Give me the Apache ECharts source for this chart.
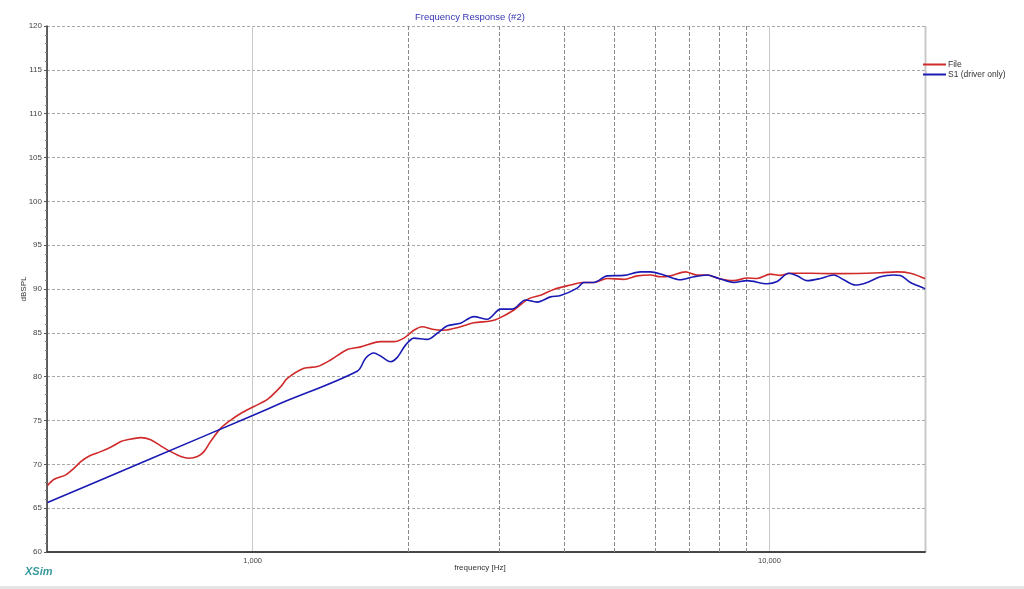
<!DOCTYPE html>
<html>
<head>
<meta charset="utf-8">
<script src="https://cdn.jsdelivr.net/npm/echarts@6/dist/echarts.min.js"></script>
<style>html,body{margin:0;padding:0;background:#fff}#c{width:1024px;height:589px}</style>
</head>
<body>
<div id="c"></div>
<script>
var fileFreq = [401,413,435,451,465,483,508,531,556,572,607,635,664,694,726,753,782,805,829,867,907,948,1006,1068,1133,1167,1257,1334,1415,1525,1618,1768,1876,1962,2051,2129,2227,2344,2525,2679,2886,2995,3203,3423,3607,3826,4122,4343,4573,4855,5228,5548,5886,6154,6435,6879,7246,7578,7979,8529,9055,9468,10044,10502,10980,12003,13317,15453,16396,17660,18740,19890,20000];
var fileDb = [67.6,68.3,68.8,69.55,70.3,70.95,71.45,71.95,72.6,72.8,73.05,72.8,72.1,71.45,70.9,70.7,70.9,71.45,72.6,74.1,75.05,75.8,76.6,77.4,78.85,79.8,80.95,81.15,81.9,83.1,83.4,84.0,84.0,84.4,85.3,85.7,85.4,85.3,85.7,86.15,86.35,86.65,87.6,88.9,89.3,89.95,90.45,90.75,90.75,91.2,91.1,91.5,91.6,91.4,91.5,91.95,91.6,91.6,91.2,90.95,91.25,91.2,91.7,91.55,91.8,91.8,91.75,91.8,91.85,91.95,91.8,91.25,91.15];
var s1Freq = [401,635,1000,1133,1596,1654,1716,1768,1849,1905,1976,2051,2177,2277,2381,2525,2679,2844,3018,3180,3373,3553,3771,3942,4246,4373,4573,4855,5228,5630,5886,6246,6729,7139,7578,7979,8529,9055,9900,10349,10897,11316,11827,12550,13317,13925,14668,15453,16396,17394,17922,18740,19890,20000];
var s1Db = [65.65,70.64,75.57,76.96,80.65,82.1,82.7,82.35,81.7,82.2,83.6,84.4,84.25,84.95,85.8,86.1,86.85,86.55,87.7,87.7,88.75,88.5,89.1,89.25,90.1,90.75,90.75,91.5,91.55,91.95,91.95,91.6,91.05,91.4,91.6,91.2,90.75,90.95,90.6,90.85,91.8,91.5,90.95,91.2,91.6,91.05,90.45,90.75,91.4,91.6,91.55,90.75,90.1,90.0];
var minorGridFreq = [2000,3000,4000,5000,6000,7000,8000,9000];
var xLabelValues = [1000,10000];
var seriesNames = ['File','S1 (driver only)'];

function pairs(f, d){ return f.map(function(v,i){ return [v, d[i]]; }); }
var FONT = 'Liberation Sans';
var chart = echarts.init(document.getElementById('c'));
chart.setOption({
  backgroundColor: '#ffffff',
  animation: false,
  title: {
    text: 'Frequency Response (#2)',
    left: 415, top: 12, padding: 0,
    textStyle: { fontFamily: FONT, fontSize: 9.5, fontWeight: 'normal', color: '#3434b4' }
  },
  legend: {
    orient: 'vertical', left: 923, top: 60, padding: 0,
    itemWidth: 23, itemHeight: 2, itemGap: 1,
    icon: 'rect',
    textStyle: { fontFamily: FONT, fontSize: 8.5, color: '#333', padding: [0,0,0,-3] },
    data: seriesNames
  },
  grid: { left: 47, top: 26, right: 99, bottom: 37, show: false },
  xAxis: {
    type: 'log', logBase: 10, min: 400, max: 20000,
    name: 'frequency [Hz]', nameLocation: 'middle', nameGap: 12, nameMoveOverlap: false,
    nameTextStyle: { fontFamily: FONT, fontSize: 8, color: '#333', padding: [0,12,0,0] },
    axisLine: { lineStyle: { color: '#444', width: 2, type: [2,1] } },
    axisTick: { show: false },
    axisLabel: {
      fontFamily: FONT, fontSize: 7.5, color: '#444', margin: 5,
      showMinLabel: false, showMaxLabel: false,
      formatter: function(v){
        var r = Math.round(v);
        return xLabelValues.indexOf(r) >= 0 ? r.toLocaleString('en-US') : '';
      }
    },
    splitLine: { show: true, lineStyle: { color: '#c8c8c8', width: 1, type: 'solid' } }
  },
  yAxis: {
    type: 'value', min: 60, max: 120, interval: 5,
    name: 'dBSPL', nameLocation: 'middle', nameGap: 19, nameMoveOverlap: false,
    nameTextStyle: { fontFamily: FONT, fontSize: 8, color: '#333' },
    axisLine: { show: true, lineStyle: { color: '#333', width: 1.5 } },
    axisTick: { show: true, length: 3, lineStyle: { color: '#555' } },
    minorTick: { show: true, splitNumber: 5, length: 2, lineStyle: { color: '#888' } },
    axisLabel: { fontFamily: FONT, fontSize: 8, color: '#444', margin: 5 },
    splitLine: { show: true, lineStyle: { color: '#a8a8a8', width: 1, type: [3,2] } }
  },
  graphic: [
    { type: 'rect', left: 0, top: 586, shape: { width: 1024, height: 3 }, style: { fill: '#e4e4e4' }, silent: true },
    { type: 'line', shape: { x1: 925.5, y1: 26, x2: 925.5, y2: 552 }, style: { stroke: '#999', lineWidth: 1.5 }, silent: true },
    { type: 'text', left: 25, top: 566, style: { text: 'XSim', fontFamily: FONT, fontSize: 11, fontStyle: 'italic', fontWeight: 'bold', fill: '#3a9a9e' } }
  ],
  series: [
    {
      name: seriesNames[0], type: 'line', data: pairs(fileFreq, fileDb),
      showSymbol: false, symbol: 'none', smooth: 0.3,
      lineStyle: { color: '#d02a2a', width: 1.6 }, itemStyle: { color: '#d02a2a' },
      z: 3,
      markLine: {
        silent: true, symbol: 'none', label: { show: false },
        lineStyle: { color: '#8a8a8a', width: 1, type: [4,2] },
        data: minorGridFreq.map(function(f){ return { xAxis: f }; }),
        z: 1
      }
    },
    {
      name: seriesNames[1], type: 'line', data: pairs(s1Freq, s1Db),
      showSymbol: false, symbol: 'none', smooth: 0.3,
      lineStyle: { color: '#1a1ab4', width: 1.6 }, itemStyle: { color: '#1a1ab4' },
      z: 4
    }
  ]
});
</script>
</body>
</html>
